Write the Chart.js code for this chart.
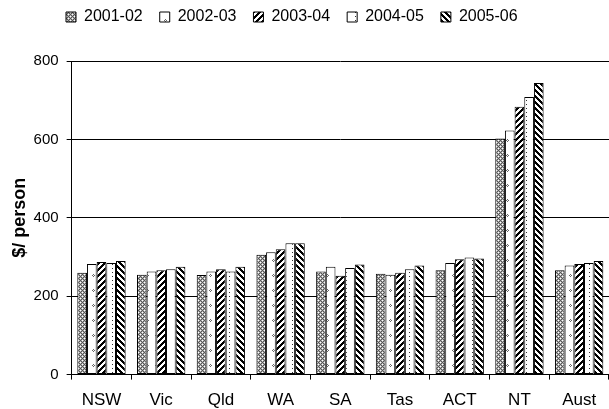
<!DOCTYPE html>
<html><head><meta charset="utf-8">
<script src="https://cdn.jsdelivr.net/npm/chart.js@4.4.0/dist/chart.umd.min.js"></script>
<style>html,body{margin:0;padding:0;background:#fff}#wrap{width:609px;height:409px}</style>
</head><body><div id="wrap"><canvas id="c"></canvas></div>
<script>
const categories = ['NSW','Vic','Qld','WA','SA','Tas','ACT','NT','Aust'];
const seriesNames = ['2001-02','2002-03','2003-04','2004-05','2005-06'];
const v2001_02 = [260,255,254,306,263,257,266,602,266];
const v2002_03 = [282,263,263,312,275,255,285,623,278];
const v2003_04 = [287,266,269,320,252,260,294,683,282];
const v2004_05 = [285,269,263,335,272,269,299,708,285];
const v2005_06 = [290,275,275,335,281,278,296,744,290];
const yTicks = [0,200,400,600,800];

function makePattern(w, h, fn){
  const c=document.createElement('canvas'); c.width=w; c.height=h;
  const x=c.getContext('2d'); x.fillStyle='#fff'; x.fillRect(0,0,w,h);
  for(let i=0;i<w;i++)for(let j=0;j<h;j++){const col=fn(i,j); if(col){x.fillStyle=col; x.fillRect(i,j,1,1);}}
  return x.createPattern(c,'repeat');
}
const pats = [
  makePattern(4,4,(i,j)=>(((i+j)%4===0)||(((i-j)%4+4)%4===0))?'#555':(((i+j)%2===0)?null:'#b0b0b0')),
  makePattern(9,15,(i,j)=>((i===3&&j===4)||(i===2&&j===5)||(i===3&&j===6)||(i===4&&j===5))?'#666':null),
  makePattern(6,6,(i,j)=>((i+j)%6<3)?'#000':null),
  makePattern(9,4,(i,j)=>(i===4&&j===0)?'#333':null),
  makePattern(6,6,(i,j)=>((((i-j)%6)+6)%6<3)?'#000':null)
];
const seriesValues=[v2001_02,v2002_03,v2003_04,v2004_05,v2005_06];
const FONT="'Liberation Sans', Arial, sans-serif";
const legendShift={id:'legendShift',afterLayout(chart){const l=chart.legend; if(l){l.left+=45; l.right+=45; l.top-=26; l.bottom-=26;}}};
new Chart(document.getElementById('c'),{
  type:'bar',
  data:{labels:categories,datasets:seriesNames.map((n,i)=>({label:n,data:seriesValues[i],backgroundColor:pats[i],borderColor:'#000',borderWidth:1,borderSkipped:false,categoryPercentage:0.81,barPercentage:1}))},
  options:{
    responsive:true,maintainAspectRatio:false,animation:false,devicePixelRatio:1,
    layout:{padding:{top:18,right:0,bottom:0,left:4}},
    plugins:{
      legend:{position:'top',align:'start',labels:{boxWidth:10,boxHeight:10,padding:17,color:'#000',font:{family:FONT,size:16}}},
      tooltip:{enabled:false}
    },
    scales:{
      x:{afterFit:(s)=>{s.height-=13;},grid:{offset:true,drawOnChartArea:false,drawTicks:true,tickLength:5,color:'#000'},border:{display:true,color:'#000'},ticks:{color:'#000',font:{family:FONT,size:17},padding:11}},
      y:{min:0,max:800,afterFit:(s)=>{s.width-=8;},afterBuildTicks:(s)=>{s.ticks=yTicks.map(v=>({value:v}));},grid:{color:'#000',tickLength:5},border:{display:true,color:'#000'},ticks:{color:'#000',font:{family:FONT,size:15},padding:8},
        title:{display:true,text:'$/ person',color:'#000',font:{family:FONT,size:18,weight:'bold'},padding:{top:5,bottom:3}}}
    }
  },
  plugins:[legendShift]
});
</script></body></html>
